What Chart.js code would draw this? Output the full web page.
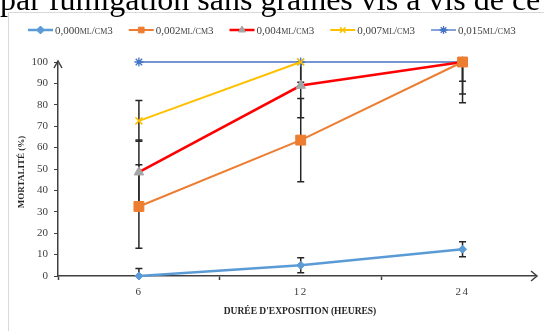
<!DOCTYPE html>
<html>
<head>
<meta charset="utf-8">
<script src="https://cdn.jsdelivr.net/npm/chart.js@4/dist/chart.umd.min.js"></script>
<style>
  html, body { margin: 0; padding: 0; background: #fff; }
  #wrap { width: 544px; height: 331px; position: relative; overflow: hidden; }
</style>
</head>
<body>
<div id="wrap"><canvas id="c" width="544" height="331"></canvas></div>
<script>
// Exposure durations (hours)
const categories = ['6', '12', '24'];
// Doses (ml/cm3)
const seriesNames = ['0,000', '0,002', '0,004', '0,007', '0,015'];
const unitLabel = 'ml/cm3';

// Mortality (%) per dose
const mort000 = [0, 5, 12.5];
const mort002 = [32.5, 63.5, 100];
const mort004 = [48.5, 89, 100];
const mort007 = [72.5, 100, null];
const mort015 = [100, 100, 100];

// Standard deviations (error bars)
const err000 = [3.5, 3.5, 3.5];
const err002 = [19.5, 19.5, 19];
const err004 = [15, 15, 15];
const err007 = [9.5, 9.5, 0];
const err015 = [0, 0, 9];

const yTicks = [0, 10, 20, 30, 40, 50, 60, 70, 80, 90, 100];

const headline = 'par fumigation sans graines vis à vis de ce';
const xTitle = "DURÉE D'EXPOSITION (HEURES)";
const yTitle = 'MORTALITÉ (%)';

const AXIS = '#404040';
const SERIF = '"Liberation Serif", "Times New Roman", serif';

const toPoints = arr => arr.map((v, i) => ({ x: i, y: v }));

const datasets = [
  { label: seriesNames[0], data: toPoints(mort000), errors: err000,
    borderColor: '#5B9BD5', backgroundColor: '#5B9BD5', borderWidth: 2.5,
    pointStyle: 'rectRot', pointRadius: 4, pointBackgroundColor: '#5B9BD5', pointBorderColor: '#5B9BD5', pointBorderWidth: 1 },
  { label: seriesNames[1], data: toPoints(mort002), errors: err002,
    borderColor: '#ED7D31', backgroundColor: '#ED7D31', borderWidth: 2,
    pointStyle: 'rect', pointRadius: 7, pointBackgroundColor: '#ED7D31', pointBorderColor: '#ED7D31', pointBorderWidth: 1 },
  { label: seriesNames[2], data: toPoints(mort004), errors: err004,
    borderColor: '#FF0000', backgroundColor: '#FF0000', borderWidth: 2.5,
    pointStyle: 'triangle', pointRadius: 5.5, pointBackgroundColor: '#A5A5A5', pointBorderColor: '#A5A5A5', pointBorderWidth: 1 },
  { label: seriesNames[3], data: toPoints(mort007), errors: err007,
    borderColor: '#FFC000', backgroundColor: '#FFC000', borderWidth: 2,
    pointStyle: 'crossRot', pointRadius: 5, pointBackgroundColor: '#FFC000', pointBorderColor: '#FFC000', pointBorderWidth: 1.5 },
  { label: seriesNames[4], data: toPoints(mort015), errors: err015,
    borderColor: '#4472C4', backgroundColor: '#4472C4', borderWidth: 1.3,
    pointStyle: 'star', pointRadius: 4.5, pointBackgroundColor: '#4472C4', pointBorderColor: '#4472C4', pointBorderWidth: 1.3 }
].map(d => Object.assign(d, { fill: false, tension: 0, clip: false, spanGaps: false }));

// Outer frame and the cropped caption line above the chart
const framePlugin = {
  id: 'frame',
  beforeDraw(chart) {
    const ctx = chart.ctx;
    ctx.save();
    ctx.fillStyle = '#fff';
    ctx.fillRect(0, 0, chart.width, chart.height);
    ctx.strokeStyle = '#d9d9d9';
    ctx.lineWidth = 1;
    ctx.beginPath();
    ctx.moveTo(8.5, chart.height);
    ctx.lineTo(8.5, 12.5);
    ctx.lineTo(chart.width, 12.5);
    ctx.stroke();
    ctx.restore();
  },
  afterDraw(chart) {
    const ctx = chart.ctx;
    ctx.save();
    ctx.fillStyle = '#000';
    ctx.font = '32px ' + SERIF;
    ctx.textBaseline = 'alphabetic';
    ctx.textAlign = 'left';
    ctx.fillText(headline, 0, 10);
    ctx.restore();
  }
};

// Vertical error bars with caps, drawn under the lines
const errorBarPlugin = {
  id: 'errorBars',
  beforeDatasetsDraw(chart) {
    const ctx = chart.ctx;
    const ys = chart.scales.y;
    const area = chart.chartArea;
    ctx.save();
    ctx.strokeStyle = '#262626';
    ctx.lineWidth = 1.5;
    chart.data.datasets.forEach((ds, i) => {
      const meta = chart.getDatasetMeta(i);
      ds.data.forEach((pt, j) => {
        const e = ds.errors[j];
        if (pt.y === null || !e) return;
        const x = meta.data[j].x;
        let top = ys.getPixelForValue(pt.y + e);
        let bot = ys.getPixelForValue(pt.y - e);
        const capTop = top >= area.top - 0.5;
        const capBot = bot <= area.bottom + 0.5;
        top = Math.max(top, area.top);
        bot = Math.min(bot, area.bottom);
        ctx.beginPath();
        ctx.moveTo(x, top); ctx.lineTo(x, bot);
        if (capTop) { ctx.moveTo(x - 3.5, top); ctx.lineTo(x + 3.5, top); }
        if (capBot) { ctx.moveTo(x - 3.5, bot); ctx.lineTo(x + 3.5, bot); }
        ctx.stroke();
      });
    });
    ctx.restore();
  }
};

// Axis arrows, axis titles and the legend row
const decorPlugin = {
  id: 'decor',
  afterDraw(chart) {
    const ctx = chart.ctx;
    const area = chart.chartArea;
    ctx.save();
    // arrow heads
    ctx.strokeStyle = AXIS;
    ctx.lineWidth = 1.5;
    ctx.beginPath();
    ctx.moveTo(area.left - 4, area.top + 6);
    ctx.lineTo(area.left, area.top - 1);
    ctx.lineTo(area.left + 4, area.top + 6);
    ctx.moveTo(area.right - 5, area.bottom - 5);
    ctx.lineTo(area.right + 1, area.bottom);
    ctx.lineTo(area.right - 5, area.bottom + 5);
    ctx.stroke();

    // axis titles
    ctx.fillStyle = '#262626';
    ctx.textAlign = 'center';
    ctx.textBaseline = 'middle';
    ctx.font = 'bold 9.5px ' + SERIF;
    ctx.fillText(xTitle, 300, 312);
    ctx.save();
    ctx.font = 'bold 9px ' + SERIF;
    ctx.translate(22, 172);
    ctx.rotate(-Math.PI / 2);
    ctx.fillText(yTitle, 0, 0);
    ctx.restore();

    // legend
    const ly = 30;
    let lx = 28;
    ctx.font = 'small-caps 11px ' + SERIF;
    ctx.textAlign = 'left';
    ctx.textBaseline = 'middle';
    chart.data.datasets.forEach(ds => {
      ctx.strokeStyle = ds.borderColor;
      ctx.lineWidth = ds.borderWidth;
      ctx.beginPath();
      ctx.moveTo(lx, ly);
      ctx.lineTo(lx + 25, ly);
      ctx.stroke();
      if (Chart.helpers && Chart.helpers.drawPoint) {
        ctx.fillStyle = ds.pointBackgroundColor;
        ctx.strokeStyle = ds.pointBorderColor;
        ctx.lineWidth = ds.pointBorderWidth;
        Chart.helpers.drawPoint(ctx, { pointStyle: ds.pointStyle, radius: Math.min(ds.pointRadius, 4), rotation: 0, borderWidth: ds.pointBorderWidth }, lx + 12.5, ly);
      }
      const txt = ds.label + unitLabel;
      ctx.fillStyle = AXIS;
      ctx.fillText(txt, lx + 27, ly + 1);
      lx += 27 + ctx.measureText(txt).width + 16;
    });
    ctx.restore();
  }
};

new Chart(document.getElementById('c'), {
  type: 'line',
  data: { datasets },
  options: {
    responsive: false,
    animation: false,
    devicePixelRatio: 1,
    layout: { padding: { top: 62, left: 0, right: 3, bottom: 0 } },
    plugins: { legend: { display: false }, tooltip: { enabled: false }, title: { display: false } },
    scales: {
      x: {
        type: 'linear',
        min: -0.5,
        max: 2.454,
        afterBuildTicks: s => {
          s.ticks = categories.flatMap((c, i) => [i - 0.5, i]).map(v => ({ value: v }));
        },
        afterFit: s => {
          s.height = 55;
          // spaced-out digits for the hour labels
          if (!s._spaced) {
            const orig = s.drawLabels;
            s.drawLabels = function (area) {
              const ctx = this.ctx;
              ctx.save();
              ctx.letterSpacing = '1.5px';
              orig.call(this, area);
              ctx.restore();
            };
            s._spaced = true;
          }
        },
        grid: {
          drawOnChartArea: false,
          tickLength: 4,
          tickWidth: 1.5,
          tickColor: c => (c.tick && Number.isInteger(c.tick.value)) ? 'rgba(0,0,0,0)' : AXIS
        },
        border: { color: AXIS, width: 1.5 },
        ticks: {
          autoSkip: false,
          maxRotation: 0,
          padding: 6,
          color: AXIS,
          font: { family: SERIF, size: 11 },
          callback: v => Number.isInteger(v) ? categories[v] : ''
        }
      },
      y: {
        min: 0,
        max: 100,
        afterBuildTicks: s => { s.ticks = yTicks.map(v => ({ value: v })); },
        afterFit: s => { s.width = 58; },
        grid: { drawOnChartArea: false, tickLength: 4, tickWidth: 1, tickColor: AXIS },
        border: { color: AXIS, width: 1.5 },
        ticks: {
          padding: 6,
          color: AXIS,
          font: { family: SERIF, size: 11 }
        }
      }
    }
  },
  plugins: [framePlugin, errorBarPlugin, decorPlugin]
});
</script>
</body>
</html>
